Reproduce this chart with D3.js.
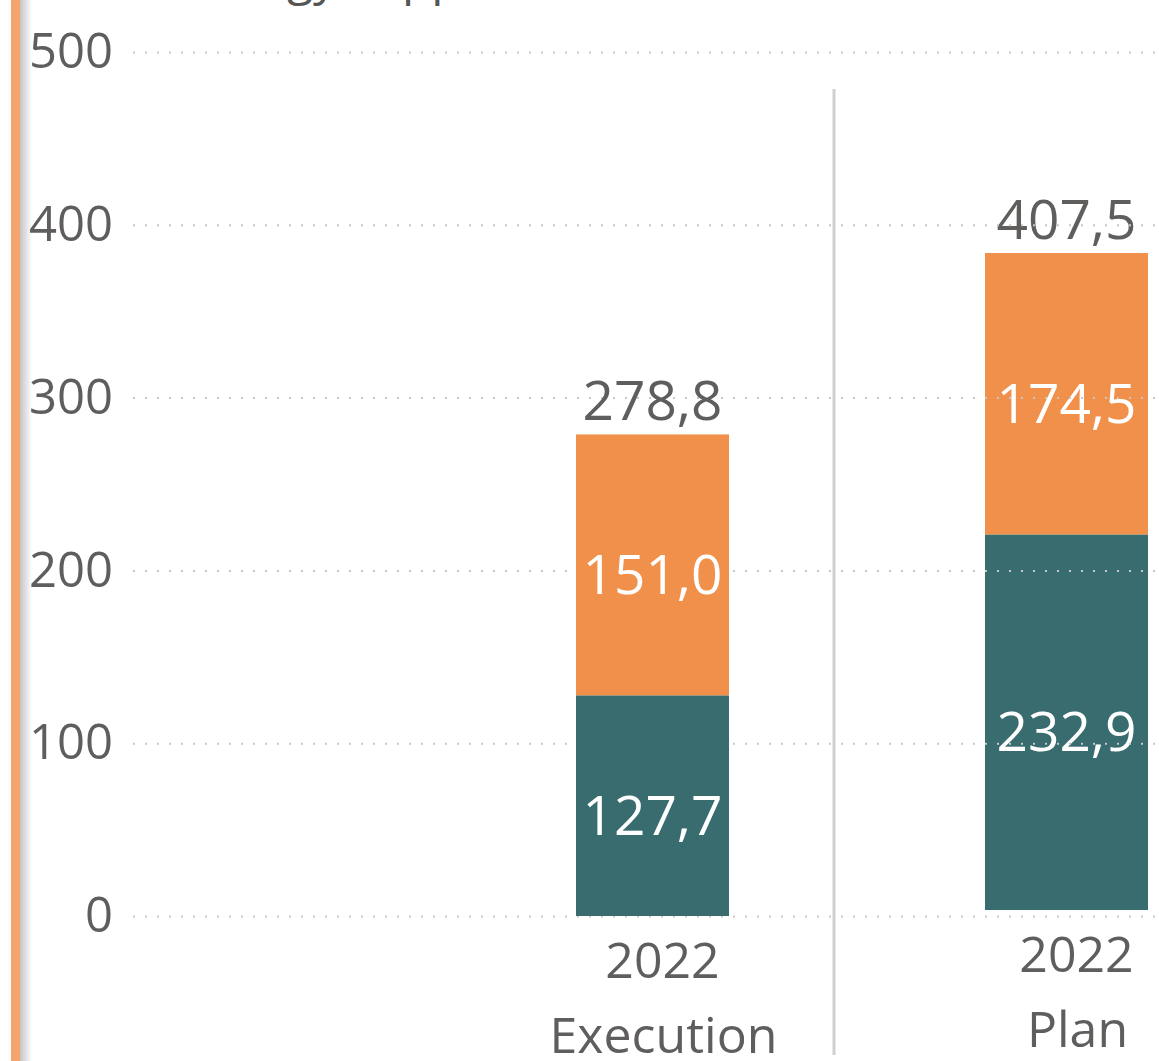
<!DOCTYPE html>
<html>
<head>
<meta charset="utf-8">
<script src="https://cdn.jsdelivr.net/npm/d3@7"></script>
<style>
  html, body { margin: 0; padding: 0; background: #fff; overflow: hidden; }
  text { font-family: "Segoe UI", "Open Sans", "Noto Sans", sans-serif; }
</style>
</head>
<body>
<script>
// chart data
const panels = ["Execution", "Plan"];
const years = ["2022"];
const baseValues = [127.7, 232.9];    // teal, bottom segment
const extraValues = [151.0, 174.5];   // orange, top segment
const totals = [278.8, 407.5];
const yTicks = [0, 100, 200, 300, 400, 500];

const W = 1159, H = 1061;
const grey = "#605E5C";
const colors = { base: "#386C6E", extra: "#F0904A" };
const fmt = v => d3.format(".1f")(v).replace(".", ",");

const svg = d3.select("body").append("svg").attr("width", W).attr("height", H);

// left accent strip with soft shadow
const defs = svg.append("defs");
const grad = defs.append("linearGradient").attr("id", "shade");
grad.append("stop").attr("offset", "0%").attr("stop-color", "#c4c4c4");
grad.append("stop").attr("offset", "100%").attr("stop-color", "#ffffff");
svg.append("rect").attr("x", 20).attr("y", 0).attr("width", 12).attr("height", H).attr("fill", "url(#shade)");
svg.append("rect").attr("x", 11).attr("y", 0).attr("width", 9).attr("height", H).attr("fill", "#F4A46C");

// title, mostly scrolled off the top
const title = svg.append("text").attr("font-size", 48).attr("fill", "#555").attr("y", -5).text("Ener");
const pre = title.node().getComputedTextLength();
title.attr("x", 287 - pre).text("Energy supplies");

// shared value scale for the axis / execution panel
const y = d3.scaleLinear().domain([0, 500]).range([916, 52]);
// plan panel sits a little lower and is scaled differently
const yPlan = d3.scaleLinear().domain([0, 500]).range([910, 910 - 500 * 1.6126]);

const xPanel = {
  Execution: d3.scaleBand().domain(years).range([576, 729]),
  Plan: d3.scaleBand().domain(years).range([985, 1148])
};
const yPanel = { Execution: y, Plan: yPlan };

function drawBars(i) {
  const p = panels[i];
  const x = xPanel[p], ys = yPanel[p];
  const g = svg.append("g").attr("class", "panel-" + p);
  const stack = [
    { key: "base", y0: 0, y1: baseValues[i] },
    { key: "extra", y0: baseValues[i], y1: baseValues[i] + extraValues[i] }
  ];
  g.selectAll("rect").data(stack).enter().append("rect")
    .attr("x", x(years[0]))
    .attr("width", x.bandwidth())
    .attr("y", d => ys(d.y1))
    .attr("height", d => ys(d.y0) - ys(d.y1))
    .attr("fill", d => colors[d.key]);

  const cx = x(years[0]) + x.bandwidth() / 2;
  g.selectAll("text.seg").data(stack).enter().append("text")
    .attr("class", "seg")
    .attr("x", cx)
    .attr("y", d => (ys(d.y0) + ys(d.y1)) / 2 + 29)
    .attr("text-anchor", "middle")
    .attr("font-size", 55)
    .attr("fill", "#fff")
    .text(d => fmt(d.y1 - d.y0));

  g.append("text")
    .attr("x", cx)
    .attr("y", ys(baseValues[i] + extraValues[i]) - 14)
    .attr("text-anchor", "middle")
    .attr("font-size", 55)
    .attr("fill", grey)
    .text(fmt(totals[i]));

  // category labels
  g.append("text").attr("x", cx + 10).attr("y", ys(0) + 62)
    .attr("text-anchor", "middle").attr("font-size", 50).attr("fill", grey).text(years[0]);
  g.append("text").attr("x", cx + 11).attr("y", ys(0) + 137)
    .attr("text-anchor", "middle").attr("font-size", 50).attr("fill", grey).text(p);
}

// plan bar sits under the gridlines
drawBars(1);

// gridlines
const grid = svg.append("g").attr("transform", "translate(133,0)")
  .call(d3.axisRight(y).tickValues(yTicks).tickSize(W - 133).tickFormat(""));
grid.select(".domain").remove();
grid.selectAll("line").attr("stroke", "#c8c8c8").attr("stroke-width", 2).attr("stroke-dasharray", "2,10");

// y axis labels
const ax = svg.append("g").attr("transform", "translate(113,0)")
  .call(d3.axisLeft(y).tickValues(yTicks).tickSize(0).tickPadding(0).tickFormat(d3.format("d")));
ax.select(".domain").remove();
ax.selectAll("text").attr("font-size", 49).attr("fill", grey)
  .attr("font-family", "'Segoe UI', 'Open Sans', 'Noto Sans', sans-serif");

// panel divider
svg.append("line").attr("x1", 834).attr("x2", 834).attr("y1", 89).attr("y2", 1055)
  .attr("stroke", "#d0d0d0").attr("stroke-width", 3);

drawBars(0);
</script>
</body>
</html>
